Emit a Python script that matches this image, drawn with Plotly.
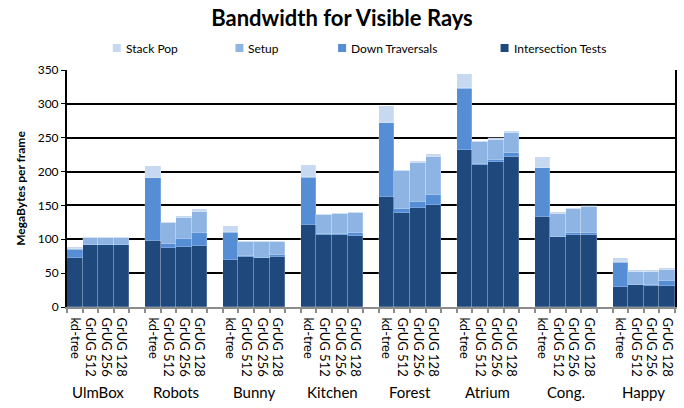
import plotly.graph_objects as go

# Scenes and build variants
scenes = ["UlmBox", "Robots", "Bunny", "Kitchen", "Forest", "Atrium", "Cong.", "Happy"]
variants = ["kd-tree", "GrUG 512", "GrUG 256", "GrUG 128"]

# MB per frame, one list per scene (kd-tree, GrUG 512, GrUG 256, GrUG 128)
intersection_tests = [
    [72, 91, 91, 91],
    [97, 87, 88, 90],
    [69, 74, 72, 74],
    [121, 107, 107, 105],
    [162, 139, 146, 150],
    [232, 210, 214, 221],
    [133, 103, 107, 106],
    [29, 32, 31, 31],
]
down_traversals = [
    [12, 1, 1, 1],
    [93, 6, 12, 19],
    [41, 1, 1, 3],
    [70, 1, 1, 4],
    [109, 5, 9, 15],
    [90, 1, 3, 7],
    [72, 1, 2, 4],
    [36, 1, 1, 7],
]
setup = [
    [1, 10, 10, 10],
    [1, 31, 31, 31],
    [1, 21, 23, 19],
    [1, 28, 29, 30],
    [1, 57, 57, 57],
    [1, 32, 30, 29],
    [1, 34, 35, 37],
    [1, 19, 20, 17],
]
stack_pop = [
    [4, 2, 2, 2],
    [17, 2, 3, 4],
    [8, 2, 2, 2],
    [17, 2, 2, 2],
    [25, 2, 3, 4],
    [21, 2, 3, 3],
    [15, 2, 2, 2],
    [6, 2, 2, 2],
]

series = [
    ("Intersection Tests", intersection_tests, "#1F497D"),
    ("Down Traversals", down_traversals, "#558ED5"),
    ("Setup", setup, "#8EB4E3"),
    ("Stack Pop", stack_pop, "#C6D9F1"),
]

FONT = "Lato, Carlito, Calibri, sans-serif"
SLOTS = len(variants) + 1  # four bars plus one empty slot between scenes

xs, xlabels = [], []
for g, _ in enumerate(scenes):
    for j, v in enumerate(variants):
        xs.append(g * SLOTS + j)
        xlabels.append(v)

fig = go.Figure()
for name, values, color in series:
    flat = [val for row in values for val in row]
    fig.add_trace(go.Bar(
        x=xs, y=flat, name=name, width=1.0,
        marker=dict(color=color, line=dict(width=0.4, color="rgba(255,255,255,0.5)")),
        showlegend=False,
    ))

n_slots = len(scenes) * SLOTS - 1
fig.update_layout(
    width=684, height=408,
    barmode="stack", bargap=0,
    plot_bgcolor="white", paper_bgcolor="white",
    margin=dict(l=67, r=7, t=70, b=101),
    font=dict(family=FONT, color="black", size=12),
    title=dict(text="<b>Bandwidth for Visible Rays</b>", x=0.5, xanchor="center",
               y=0.955, yanchor="middle", font=dict(size=22, family=FONT)),
    xaxis=dict(
        range=[-0.5, n_slots - 0.5],
        tickmode="array", tickvals=xs, ticktext=xlabels, tickangle=90,
        ticks="", showgrid=False, zeroline=False, ticklabelstandoff=6,
        showline=True, linecolor="#8C8C8C", linewidth=2,
        tickfont=dict(size=13, family=FONT),
        minor=dict(tickmode="linear", tick0=-0.5, dtick=1, ticks="outside",
                   ticklen=4, tickwidth=1.5, tickcolor="#8C8C8C", showgrid=False),
    ),
    yaxis=dict(
        range=[0, 350], dtick=50,
        showgrid=True, gridcolor="black", gridwidth=2,
        showline=True, linecolor="black", linewidth=2, mirror=True,
        ticks="outside", ticklen=4, tickcolor="black", zeroline=False,
        tickfont=dict(size=12, family=FONT),
        title=dict(text="<b>MegaBytes per frame</b>", font=dict(size=12, family=FONT), standoff=10),
    ),
)

# Scene names under the rotated variant labels
for g, scene in enumerate(scenes):
    fig.add_annotation(x=g * SLOTS + 1.5, y=-0.36, xref="x", yref="paper",
                       text=scene, showarrow=False, font=dict(size=15, family=FONT),
                       xanchor="center", yanchor="middle")

# Legend row across the top
legend_items = [("Stack Pop", "#C6D9F1", 113), ("Setup", "#8EB4E3", 236),
                ("Down Traversals", "#558ED5", 339), ("Intersection Tests", "#1F497D", 502)]
W, H = 684, 408
pw, ph = W - 67 - 7, H - 70 - 101
for text, color, px in legend_items:
    x0 = (px - 67) / pw
    x1 = (px + 8 - 67) / pw
    yc = (H - 101 - 48) / ph
    fig.add_shape(type="rect", xref="paper", yref="paper", x0=x0, x1=x1,
                  y0=yc - 4 / ph, y1=yc + 4 / ph, fillcolor=color, line=dict(width=0))
    fig.add_annotation(x=(px + 11 - 67) / pw, y=yc, xref="paper", yref="paper",
                       text=text, showarrow=False, xanchor="left", yanchor="middle",
                       font=dict(size=12, family=FONT))

fig.write_html("out.html")
